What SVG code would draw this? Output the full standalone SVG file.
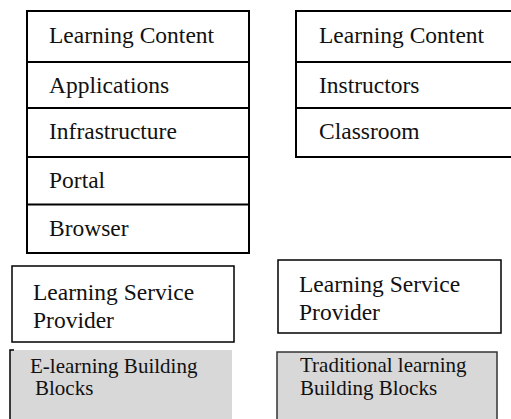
<svg xmlns="http://www.w3.org/2000/svg" width="511" height="419" viewBox="0 0 511 419">
<style>
text{font-family:'Liberation Serif','Times New Roman',Times,'DejaVu Serif',serif;fill:#111}
.t{font-size:23.5px}
.s{font-size:21px}
.box{fill:#fff;stroke:#000;stroke-width:2}
.thin{fill:#fff;stroke:#000;stroke-width:1.5}
.grey{fill:#d8d8d8}
.div{stroke:#000;stroke-width:2}
</style>
<rect width="511" height="419" fill="#fff"/>
<g id="elearning-stack">
<rect class="box" x="27" y="11" width="222" height="242"/>
<line class="div" x1="27" y1="62" x2="249" y2="62"/>
<line class="div" x1="27" y1="108" x2="249" y2="108"/>
<line class="div" x1="27" y1="157" x2="249" y2="157"/>
<line class="div" x1="27" y1="204.5" x2="249" y2="204.5"/>
<text class="t" x="49" y="43" font-family="Liberation Serif">Learning Content</text>
<text class="t" x="49" y="93" font-family="Liberation Serif">Applications</text>
<text class="t" x="49" y="139" font-family="Liberation Serif">Infrastructure</text>
<text class="t" x="49" y="188" font-family="Liberation Serif">Portal</text>
<text class="t" x="49" y="236" font-family="Liberation Serif">Browser</text>
</g>
<g id="traditional-stack">
<rect class="box" x="296" y="11" width="220" height="146"/>
<line class="div" x1="296" y1="62" x2="516" y2="62"/>
<line class="div" x1="296" y1="108" x2="516" y2="108"/>
<text class="t" x="319" y="43">Learning Content</text>
<text class="t" x="319" y="93">Instructors</text>
<text class="t" x="319" y="139">Classroom</text>
</g>
<g id="lsp-left">
<rect class="thin" x="12" y="266" width="222" height="76"/>
<text class="t" x="33" y="300">Learning Service</text>
<text class="t" x="33" y="328">Provider</text>
</g>
<g id="lsp-right">
<rect class="thin" x="278" y="260" width="223" height="73"/>
<text class="t" x="299" y="292">Learning Service</text>
<text class="t" x="299" y="320">Provider</text>
</g>
<g id="elearning-blocks">
<rect class="grey" x="10" y="350" width="222" height="75"/>
<path d="M14 350 H10 V419" fill="none" stroke="#000" stroke-width="1.5"/>
<text class="s" x="30" y="373">E-learning Building</text>
<text class="s" x="35" y="395">Blocks</text>
</g>
<g id="traditional-blocks">
<rect class="grey" x="277" y="352" width="220" height="75" stroke="#333" stroke-width="1.5"/>
<text class="s" x="300" y="372">Traditional learning</text>
<text class="s" x="300" y="395">Building Blocks</text>
</g>
<g id="connectors"></g>
</svg>
